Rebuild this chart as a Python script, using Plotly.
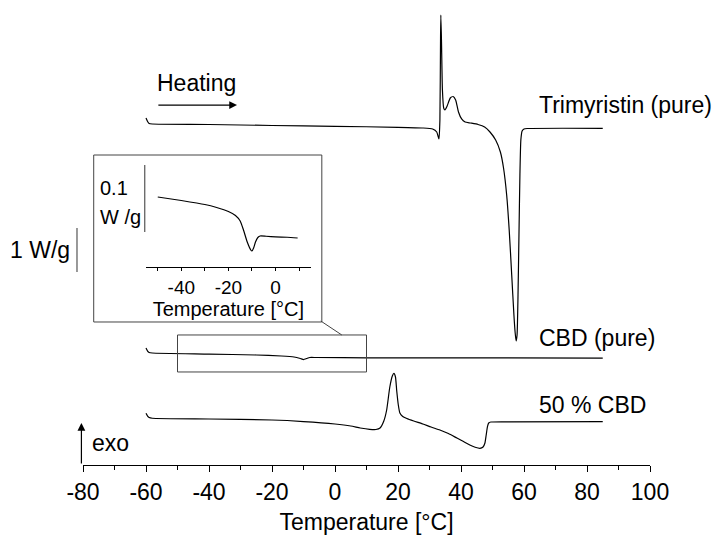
import plotly.graph_objects as go

# ---------------- data ----------------
# Temperature [°C] and heat flow [W/g] (exo up), relative to each curve's baseline
trim_T = [-60, -59.5, -59, -58, -40, -20, 0, 20, 28, 31,
          32.3, 33.0, 33.3, 33.5, 33.6, 33.8, 34.1, 34.5, 34.9, 35.6,
          36.6, 37.5, 38.3, 39.2, 40.2, 41.3, 43, 45.4, 47.5, 49.2,
          51, 52.5, 53.5, 54.5, 55.3, 56.1, 56.8, 57.2, 57.5, 57.8,
          58.1, 58.4, 58.7, 59.0, 59.4, 60, 61, 85]
trim_HF = [0.136, 0.057, 0.011, 0.000, -0.011, -0.034, -0.052, -0.075, -0.091, -0.114,
           -0.182, -0.341, 0.091, 1.909, 2.477, 1.909, 0.773, 0.364, 0.318, 0.409,
           0.591, 0.625, 0.545, 0.273, 0.114, 0.045, 0.023, -0.011, -0.068, -0.182,
           -0.364, -0.636, -1.000, -1.614, -2.409, -3.432, -4.341, -4.750, -4.932, -4.795,
           -3.886, -2.523, -1.159, -0.364, -0.159, -0.114, -0.102, -0.098]

cbd_T = [-60, -59.5, -59, -58, -40, -25, -17, -13, -11, -10, -9, -8, -6, 10, 85]
cbd_HF = [0.114, 0.045, 0.011, 0.0, -0.023, -0.045, -0.068, -0.091, -0.125, -0.148,
          -0.125, -0.102, -0.102, -0.109, -0.114]

mix_T = [-60, -59.5, -59, -58, -40, -20, -10, 0, 5, 8,
         11, 13, 14.3, 15.5, 16.4, 17.4, 18.2, 18.7, 19.2, 19.6,
         20.1, 20.6, 21.5, 22.8, 25, 27.9, 30.5, 33.3, 36, 38.7,
         40.8, 42.8, 44.5, 46, 47, 47.6, 48.0, 48.4, 48.8, 49.5,
         55, 85]
mix_HF = [0.107, 0.045, 0.011, -0.005, -0.023, -0.045, -0.080, -0.136, -0.182, -0.227,
          -0.257, -0.261, -0.227, -0.068, 0.182, 0.705, 0.955, 1.016, 0.932, 0.614,
          0.295, 0.114, 0.034, -0.011, -0.068, -0.136, -0.205, -0.273, -0.352, -0.455,
          -0.534, -0.614, -0.664, -0.689, -0.659, -0.568, -0.386, -0.198, -0.114, -0.091,
          -0.086, -0.080]

# vertical offsets of the stacked curves [W/g]
curve_offsets = {"trim": 7.75, "cbd": 2.545, "mix": 1.068}
curve_labels = ["Trimyristin (pure)", "CBD (pure)", "50 % CBD"]

# inset: CBD (pure) zoomed
inset_T = [-50, -40, -30, -25, -20, -17, -15, -13.6, -12, -10.5,
           -10, -9.3, -8.5, -7.5, -6.5, -4, 0, 5, 9.4]
inset_HF = [0.0582, 0.0530, 0.0470, 0.0425, 0.0366, 0.0306, 0.0224, 0.0090, -0.0090, -0.0209,
            -0.0224, -0.0179, -0.0090, -0.0022, 0.0, -0.0004, -0.0012, -0.0019, -0.0030]
inset_offset = 0.0463

x_ticks = [-80, -60, -40, -20, 0, 20, 40, 60, 80, 100]
x_ticktext = ["-80", "-60", "-40", "-20", "0", "20", "40", "60", "80", "100"]
inset_ticks = [-40, -20, 0]
inset_ticktext = ["-40", "-20", "0"]

FONT = "Liberation Sans, Arial, sans-serif"
LW = 1.2

fig = go.Figure()

def add_curve(T, HF, off, xa="x", ya="y"):
    fig.add_trace(go.Scatter(
        x=T, y=[v + off for v in HF], mode="lines",
        line=dict(color="black", width=LW, shape="spline", smoothing=0.5),
        xaxis=xa, yaxis=ya, showlegend=False, hoverinfo="skip"))

add_curve(trim_T, trim_HF, curve_offsets["trim"])
add_curve(cbd_T, cbd_HF, curve_offsets["cbd"])
add_curve(mix_T, mix_HF, curve_offsets["mix"])
add_curve(inset_T, inset_HF, inset_offset, "x2", "y2")

fig.update_layout(
    width=714, height=537,
    margin=dict(l=83, r=64, t=5, b=72),
    paper_bgcolor="white", plot_bgcolor="white",
    font=dict(family=FONT, size=23, color="black"),
    xaxis=dict(
        range=[-80, 100], tickvals=x_ticks, ticktext=x_ticktext, ticks="outside", ticklen=6,
        tickwidth=1.2, tickcolor="black", showline=True, linecolor="black",
        linewidth=1.2, showgrid=False, zeroline=False,
        tickfont=dict(size=23),
        minor=dict(dtick=10, tick0=0, ticks="outside", ticklen=4, tickcolor="black", tickwidth=1.2),
        title=dict(text="Temperature [°C]", font=dict(size=23), standoff=10),
    ),
    yaxis=dict(range=[0, 460 / 44], visible=False),
    xaxis2=dict(
        domain=[0.1111, 0.4018], anchor="y2",
        range=[-55, 15], tickvals=inset_ticks, ticktext=inset_ticktext, ticks="outside", ticklen=3,
        tickcolor="black", showline=True, linecolor="black", linewidth=1,
        showgrid=False, zeroline=False, tickfont=dict(size=19),
        minor=dict(tickvals=[-50, -30, -10, 10], ticks="outside", ticklen=3, tickcolor="black"),
        title=dict(text="Temperature [°C]", font=dict(size=20), standoff=2),
    ),
    yaxis2=dict(domain=[0.4304, 0.663], anchor="x2", range=[0, 0.1597], visible=False),
)

# inset frame
fig.add_shape(type="rect", xref="paper", yref="paper",
              x0=0.0189, x1=0.4212, y0=0.3109, y1=0.6739,
              line=dict(color="#444", width=1))
# zoom rectangle on CBD curve
fig.add_shape(type="rect", xref="x", yref="y", x0=-50, x1=10, y0=2.114, y1=2.955,
              line=dict(color="#444", width=1))
# connector
fig.add_shape(type="line", xref="paper", yref="paper",
              x0=0.4194, y0=0.313, x1=0.4565, y1=0.2826,
              line=dict(color="#444", width=1))

# 1 W/g scale bar
fig.add_shape(type="line", xref="paper", yref="y", x0=-0.0106, x1=-0.0106,
              y0=4.386, y1=5.386, line=dict(color="#555", width=1.2))
fig.add_annotation(xref="paper", yref="y", x=-0.0199, y=4.886, text="1 W/g",
                   showarrow=False, xanchor="right", yanchor="middle", font=dict(size=23))

# inset 0.1 W/g scale bar
fig.add_shape(type="line", xref="paper", yref="y2", x0=0.1089, x1=0.1089,
              y0=0.0522, y1=0.1522, line=dict(color="#555", width=1.2))
fig.add_annotation(xref="paper", yref="y2", x=0.0260, y=(267 - 188) / 670, text="0.1",
                   showarrow=False, xanchor="left", yanchor="middle", font=dict(size=20))
fig.add_annotation(xref="paper", yref="y2", x=0.0260, y=(267 - 217) / 670, text="W /g",
                   showarrow=False, xanchor="left", yanchor="middle", font=dict(size=20))

# curve labels
label_y = [8.18, 2.886, 1.36]
for txt, yy in zip(curve_labels, label_y):
    fig.add_annotation(x=64.2, y=yy, text=txt, showarrow=False,
                       xanchor="left", yanchor="middle", font=dict(size=23))

# Heating arrow
fig.add_annotation(x=-44.0, y=8.69, text="Heating", showarrow=False,
                   xanchor="center", yanchor="middle", font=dict(size=23))
fig.add_annotation(x=-31.1, y=8.18, ax=-56.55, ay=8.18, axref="x", ayref="y",
                   text="", showarrow=True, arrowhead=2, arrowsize=1.3,
                   arrowwidth=1.2, arrowcolor="black")

# exo arrow
fig.add_annotation(xref="paper", yref="y", x=-0.0028, y=0.955, ax=0, ay=42,
                   text="", showarrow=True, arrowhead=2, arrowsize=1.3,
                   arrowwidth=1.2, arrowcolor="black")
fig.add_annotation(xref="paper", yref="y", x=0.0118, y=0.5, text="exo",
                   showarrow=False, xanchor="left", yanchor="middle", font=dict(size=23))

fig.write_html("out.html")
